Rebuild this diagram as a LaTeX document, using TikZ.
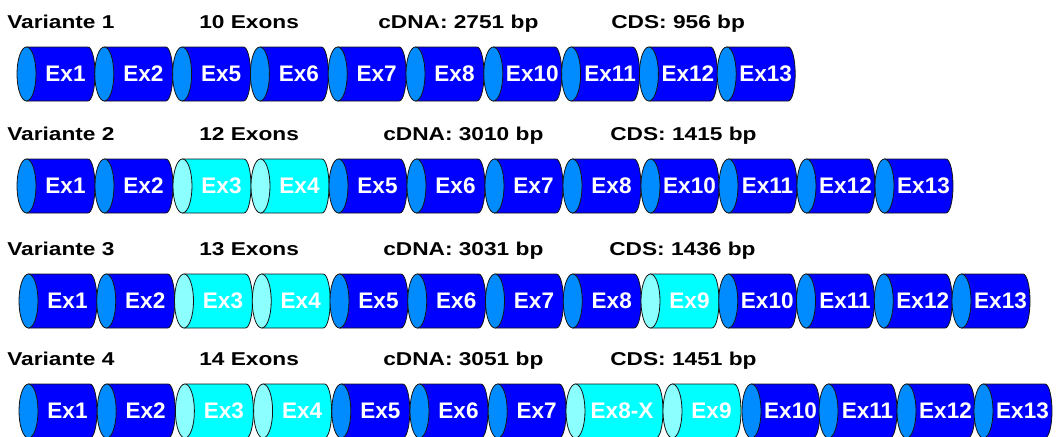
\documentclass[tikz,border=0pt]{standalone}
\usepackage{fontspec}
\setmainfont{Liberation Sans}
\newfontfamily\headfont[FakeStretch=1.22]{Liberation Sans}

\definecolor{dkbody}{RGB}{0,0,255}
\definecolor{dkface}{RGB}{0,140,255}
\definecolor{ltbody}{RGB}{0,255,255}
\definecolor{ltface}{RGB}{140,255,255}
\definecolor{edge}{RGB}{20,20,20}

% one exon drawn as a lying cylinder:
% #1 name, #2 left x, #3 length, #4 centre y, #5 colour set (dk/lt), #6 label, #7 label offset
\newcommand\exon[7]{%
  \filldraw[fill=#5body, draw=edge, line width=0.6pt]
    (#2+9.5,#4-27) -- (#2+#3-7,#4-27)
    arc[start angle=-90, end angle=90, x radius=7, y radius=27]
    -- (#2+9.5,#4+27) -- cycle;
  \filldraw[fill=#5face, draw=edge, line width=0.6pt]
    (#2+9.5,#4) ellipse[x radius=9.5, y radius=27];
  \node[exlabel] (#1) at (#2+#7,#4) {#6};
}

\begin{document}
\begin{tikzpicture}[x=0.75pt, y=-0.75pt,
  exlabel/.style={inner sep=0pt, text=white,
    font=\fontsize{16.9}{16.9}\selectfont\bfseries},
  head/.style={inner sep=0pt, anchor=base west,
    font=\headfont\fontsize{13.95}{13.95}\selectfont\bfseries}]
\useasboundingbox (0,0) rectangle (1057,436);

% Variante 1
\node[head] (v1) at (7,28) {Variante 1};
\node[head] (v1n) at (199,28) {10 Exons};
\node[head] (v1c) at (378,28) {cDNA: 2751 bp};
\node[head] (v1s) at (611,28) {CDS: 956 bp};
\foreach \lab [count=\i from 0] in {Ex1,Ex2,Ex5,Ex6,Ex7,Ex8,Ex10,Ex11,Ex12,Ex13} {
  \pgfmathsetmacro\L{17+77.8*\i}
  \exon{a\i}{\L}{78}{74}{dk}{\lab}{48.5}
}

% Variante 2
\node[head] (v2) at (7,140) {Variante 2};
\node[head] (v2n) at (199,140) {12 Exons};
\node[head] (v2c) at (383,140) {cDNA: 3010 bp};
\node[head] (v2s) at (610,140) {CDS: 1415 bp};
\foreach \lab/\col [count=\i from 0] in {Ex1/dk,Ex2/dk,Ex3/lt,Ex4/lt,Ex5/dk,Ex6/dk,Ex7/dk,Ex8/dk,Ex10/dk,Ex11/dk,Ex12/dk,Ex13/dk} {
  \pgfmathsetmacro\L{17+78*\i}
  \exon{b\i}{\L}{78}{186}{\col}{\lab}{48.5}
}

% Variante 3
\node[head] (v3) at (7,255) {Variante 3};
\node[head] (v3n) at (199,255) {13 Exons};
\node[head] (v3c) at (383,255) {cDNA: 3031 bp};
\node[head] (v3s) at (609,255) {CDS: 1436 bp};
\foreach \lab/\col [count=\i from 0] in {Ex1/dk,Ex2/dk,Ex3/lt,Ex4/lt,Ex5/dk,Ex6/dk,Ex7/dk,Ex8/dk,Ex9/lt,Ex10/dk,Ex11/dk,Ex12/dk,Ex13/dk} {
  \pgfmathsetmacro\L{19+77.75*\i}
  \exon{c\i}{\L}{78}{301}{\col}{\lab}{48.5}
}

% Variante 4
\node[head] (v4) at (7,365) {Variante 4};
\node[head] (v4n) at (199,365) {14 Exons};
\node[head] (v4c) at (383,365) {cDNA: 3051 bp};
\node[head] (v4s) at (610,365) {CDS: 1451 bp};
\foreach \lab/\col/\L/\W/\T [count=\i from 0] in {
  Ex1/dk/19/78/48.5, Ex2/dk/97.2/78/48.5, Ex3/lt/175.4/78/48.5,
  Ex4/lt/253.6/78/48.5, Ex5/dk/331.8/78/48.5, Ex6/dk/410/78/48.5,
  Ex7/dk/488.2/78/48.5, Ex8-X/lt/566/97/56, Ex9/lt/663/78/48.5,
  Ex10/dk/742/78/48.5, Ex11/dk/819/78/48.5, Ex12/dk/897/78/48.5,
  Ex13/dk/974/78/48.5} {
  \exon{d\i}{\L}{\W}{411}{\col}{\lab}{\T}
}
\end{tikzpicture}
\end{document}
